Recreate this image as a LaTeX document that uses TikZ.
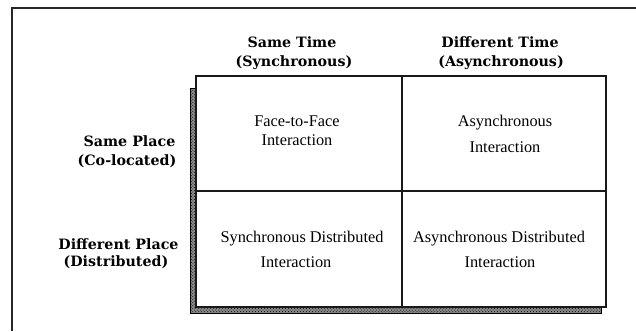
\documentclass[tikz,border=0pt]{standalone}
\usepackage{fontspec}
\setmainfont{Liberation Serif}
\newfontfamily\headfont{DejaVu Serif}
\usetikzlibrary{patterns}
\begin{document}
\begin{tikzpicture}[x=1bp,y=-1bp,
  headlabel/.style={font=\headfont\bfseries\fontsize{14.3}{17}\selectfont, inner sep=0pt, anchor=base},
  celltext/.style={font=\fontsize{16.4}{19}\selectfont, inner sep=0pt, anchor=base, text=black},
  gridline/.style={line width=1.4pt, draw=black!90},
  framebox/.style={line width=2.2pt, draw=black!90, fill=white},
  shadowfill/.style={fill=black!45},
  shadowband/.style={pattern=crosshatch dots, pattern color=black, draw=black, line width=0.9pt}]
  \useasboundingbox (0,0) rectangle (636,331);
  % page frame
  \draw[line width=1.5pt, black!85] (12,331) -- (12,8) -- (636,8);
  % column headings
  \node[headlabel] (sametime)  at (292,47) {Same Time};
  \node[headlabel] (synch)     at (294,66) {(Synchronous)};
  \node[headlabel] (difftime)  at (500,47) {Different Time};
  \node[headlabel] (asynch)    at (501,66) {(Asynchronous)};
  % row headings
  \node[headlabel] (sameplace) at (129.5,146.5) {Same Place};
  \node[headlabel] (coloc)     at (127,165.5) {(Co-located)};
  \node[headlabel] (diffplace) at (118.5,249) {Different Place};
  \node[headlabel] (distrib)   at (116,266.5) {(Distributed)};
  % shadow of the matrix
  \path[shadowfill] (190,88) -- (196,88) -- (196,307) -- (601,307) -- (601,313) -- (190,313) -- cycle;
  \path[shadowband] (190,88) -- (196,88) -- (196,307) -- (601,307) -- (601,313) -- (190,313) -- cycle;
  % the 2x2 matrix
  \draw[framebox] (196,76) rectangle (606,307);
  \draw[gridline] (402,76) -- (402,307);
  \draw[gridline] (196,191) -- (606,191);
  % cell contents
  \node[celltext] (ftf)   at (297,126.7) {Face-to-Face};
  \node[celltext] (ftfi)  at (297,145.7) {Interaction};
  \node[celltext] (asy)   at (505,126.7) {Asynchronous};
  \node[celltext] (asyi)  at (505,152) {Interaction};
  \node[celltext] (sd)    at (302,242.7) {Synchronous Distributed};
  \node[celltext] (sdi)   at (296,267.7) {Interaction};
  \node[celltext] (ad)    at (499,242.7) {Asynchronous Distributed};
  \node[celltext] (adi)   at (500,267.7) {Interaction};
\end{tikzpicture}
\end{document}
